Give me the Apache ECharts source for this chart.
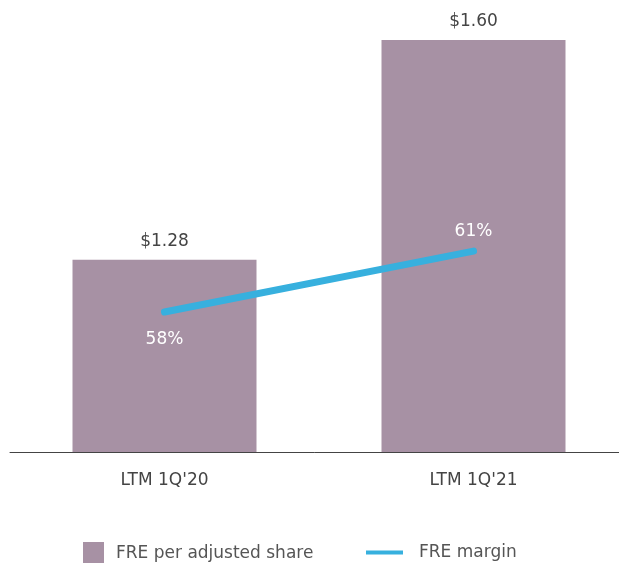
<!DOCTYPE html>
<html>
<head>
<meta charset="utf-8">
<script src="https://cdn.jsdelivr.net/npm/echarts@6/dist/echarts.min.js"></script>
<style>
  html, body { margin: 0; padding: 0; background: #fff; }
  #chart { width: 619px; height: 563px; }
</style>
</head>
<body>
<div id="chart"></div>
<script>
// categories and values
const categories = ['LTM 1Q\'20', 'LTM 1Q\'21']
const freShare = [1.28, 1.60]
const freMargin = [58, 61]

const chart = echarts.init(document.getElementById('chart'))
const font = 'DejaVu Sans, Verdana, sans-serif'

const option = {
  animation: false,
  textStyle: { fontFamily: font },
  grid: { left: 10, width: 618, top: 40, height: 412, outerBoundsMode: 'none', containLabel: false },
  legend: [
    {
      data: ['FRE per adjusted share'],
      left: 78, top: 537,
      itemWidth: 21, itemHeight: 23,
      icon: 'rect',
      textStyle: { fontSize: 17, color: '#555', fontFamily: font, padding: [0, 0, 0, 7] }
    },
    {
      data: ['FRE margin'],
      left: 361, top: 539,
      itemWidth: 37, itemHeight: 4,
      icon: 'rect',
      itemStyle: { color: '#37b0de' },
      textStyle: { fontSize: 17, color: '#555', fontFamily: font, padding: [0, 0, 0, 11] }
    }
  ],
  xAxis: {
    type: 'category',
    data: categories,
    axisLine: { lineStyle: { color: '#444', width: 1 } },
    axisTick: { show: false },
    axisLabel: { color: '#444', fontSize: 17, margin: 20, fontFamily: font }
  },
  yAxis: [
    { type: 'value', min: 1, max: 1.6, show: false },
    { type: 'value', min: 51.1, max: 71.4, show: false }
  ],
  series: [
    {
      name: 'FRE per adjusted share',
      type: 'bar',
      data: freShare,
      barWidth: 184,
      itemStyle: { color: '#a791a4' },
      label: {
        show: true, position: 'top', distance: 10,
        color: '#444', fontSize: 17, fontFamily: font,
        formatter: p => '$' + p.value.toFixed(2)
      }
    },
    {
      name: 'FRE margin',
      type: 'line',
      yAxisIndex: 1,
      data: [
        { value: freMargin[0], label: { position: 'bottom', distance: 19 } },
        { value: freMargin[1], label: { position: 'top', distance: 10 } }
      ],
      symbol: 'circle',
      symbolSize: 1,
      showSymbol: true,
      lineStyle: { color: '#37b0de', width: 7, cap: 'round' },
      itemStyle: { color: '#37b0de' },
      label: {
        show: true, color: '#fff', fontSize: 17, fontFamily: font,
        formatter: p => p.value + '%'
      }
    }
  ]
}

chart.setOption(option)
</script>
</body>
</html>
